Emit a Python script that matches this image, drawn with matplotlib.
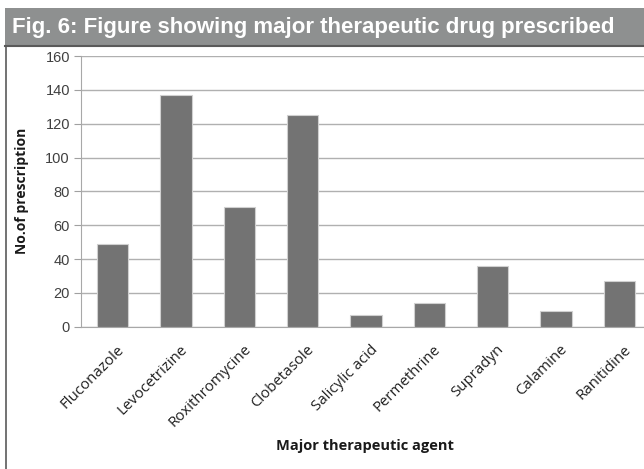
import matplotlib
matplotlib.use("Agg")
import matplotlib.pyplot as plt
from matplotlib.patches import Rectangle
from matplotlib.lines import Line2D
from matplotlib.transforms import ScaledTranslation

categories = ["Fluconazole", "Levocetrizine", "Roxithromycine", "Clobetasole",
              "Salicylic acid", "Permethrine", "Supradyn", "Calamine", "Ranitidine"]
values = [49, 137, 71, 125, 7, 14, 36, 9, 27]
yticks = [0, 20, 40, 60, 80, 100, 120, 140, 160]
title = "Fig. 6: Figure showing major therapeutic drug prescribed"
xlabel = "Major therapeutic agent"
ylabel = "No.of prescription"

W, H = 644, 469
fig = plt.figure(figsize=(W / 100, H / 100), dpi=100)
fig.patch.set_facecolor("white")

# title band
fig.patches.append(Rectangle((5 / W, 1 - 45 / H), 1, 37 / H, transform=fig.transFigure,
                             facecolor="#8e9090", edgecolor="none"))
fig.lines.append(Line2D([5 / W, 1], [1 - 46 / H, 1 - 46 / H], transform=fig.transFigure,
                        color="#5a5a5a", lw=1.5))
fig.lines.append(Line2D([5.5 / W, 5.5 / W], [0, 1 - 46 / H], transform=fig.transFigure,
                        color="#5a5a5a", lw=1.2))
fig.text(12 / W, 1 - 27 / H, title, color="white", fontsize=16, fontweight="bold",
         family=["Liberation Sans", "DejaVu Sans"], va="center", ha="left")

ax = fig.add_axes([81 / W, (H - 326.7) / H, 570 / W, 270.7 / H])
x = list(range(len(categories)))
ax.bar(x, values, width=0.49, color="#737373", edgecolor="#d0d0d0", linewidth=0.8, zorder=3)
ax.set_xlim(-0.5, len(categories) - 0.5)
ax.set_ylim(0, 160)
ax.set_yticks(yticks)
ax.set_yticklabels([str(v) for v in yticks], fontsize=10.5, color="#404040",
                   family="Liberation Sans")
ax.set_xticks(x)
ax.set_xticklabels(categories, rotation=45, ha="right", rotation_mode="anchor",
                   fontsize=10.8, color="#202020", family="Open Sans")
ax.tick_params(axis="x", length=0, pad=11)
ax.tick_params(axis="y", length=5, color="#a0a0a0", width=0.8, pad=3)
ax.grid(axis="y", color="#b0b0b0", linewidth=1.0, zorder=0)
for s in ["top", "right"]:
    ax.spines[s].set_visible(False)
ax.spines["left"].set_color("#a8a8a8")
ax.spines["bottom"].set_color("#a8a8a8")
off = ScaledTranslation(4 / 100, 0, fig.dpi_scale_trans)
for lbl in ax.get_xticklabels():
    lbl.set_transform(lbl.get_transform() + off)

fig.text(22 / W, 1 - 191 / H, ylabel, rotation=90, fontsize=10, fontweight="bold",
         family="Open Sans", ha="center", va="center", color="#1a1a1a")
fig.text(365 / W, 1 - 446 / H, xlabel, fontsize=10.5, fontweight="bold",
         family="Open Sans", ha="center", va="center", color="#1a1a1a")

fig.savefig("out.png", dpi=100)
